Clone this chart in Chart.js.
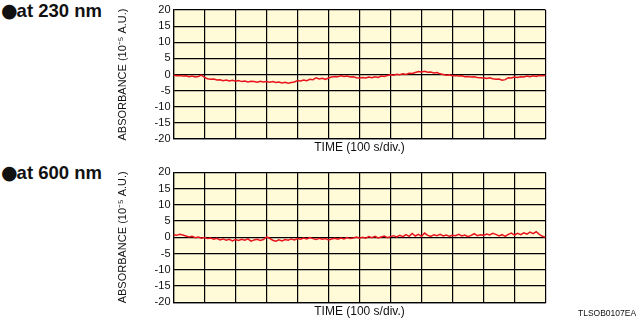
<!DOCTYPE html>
<html>
<head>
<meta charset="utf-8">
<script src="https://cdn.jsdelivr.net/npm/chart.js@4.4.0/dist/chart.umd.min.js"></script>
<style>
  body { margin: 0; background: #fff; }
  #wrap { position: relative; width: 641px; height: 320px; font-family: "Liberation Sans", Arial, sans-serif; }
  canvas { position: absolute; left: 0; }
  .label { position: absolute; left: 1px; font-weight: bold; font-size: 18.5px; color: #111; }
  .label b { font-family: "DejaVu Sans"; font-size: 19px; margin-right: -1px; }
  .code { position: absolute; left: 578px; top: 308px; font-size: 8.5px; color: #111; }
</style>
</head>
<body>
<div id="wrap">
  <div class="label" style="top:-1px"><b>●</b>at 230 nm</div>
  <canvas id="chart230" width="641" height="160" style="top:0"></canvas>
  <div class="label" style="top:161px"><b>●</b>at 600 nm</div>
  <canvas id="chart600" width="641" height="160" style="top:160px"></canvas>
  <div class="code">TLSOB0107EA</div>
</div>
<script>
// time in divisions (100 s/div), one sample every 0.1 div
const divisions = 12;
const sampleStep = 0.1;
const yTicks = [-20, -15, -10, -5, 0, 5, 10, 15, 20];

// absorbance readings (10^-5 A.U.)
const abs230 = [
  -0.2, -0.4, -0.3, -0.5, -0.4, -0.7, -0.5, -0.8, -0.6, -0.2, -0.9,
  -1.3, -1.5, -1.4, -1.7, -1.6, -1.9, -1.7, -2.0, -1.8, -2.1,
  -1.9, -2.2, -2.0, -2.3, -2.1, -2.2, -2.4, -2.1, -2.3, -2.2,
  -2.4, -2.2, -2.5, -2.3, -2.6, -2.4, -2.7, -2.5, -2.3, -1.9,
  -2.0, -1.7, -1.9, -1.5, -1.6, -1.0, -1.4, -1.2, -1.5, -1.1,
  -0.8, -0.6, -0.7, -0.4, -0.6, -0.5, -0.8, -0.7, -1.0, -1.1,
  -0.9, -1.1, -0.8, -1.0, -0.7, -0.9, -0.5, -0.6, -0.3, -0.1,
  -0.2, 0.1, -0.1, 0.2, 0.0, 0.4, 0.3, 0.6, 0.9, 0.8,
  1.0, 0.7, 0.8, 0.5, 0.6, 0.2, 0.0, -0.2, -0.1, -0.4,
  -0.3, -0.5, -0.4, -0.7, -0.6, -0.8, -0.7, -0.9, -1.0, -1.1,
  -1.2, -1.0, -1.3, -1.5, -1.4, -1.8, -1.6, -1.0, -1.1, -0.8,
  -0.9, -0.7, -0.8, -0.5, -0.7, -0.4, -0.6, -0.3, -0.4, -0.3
];

const abs600 = [
  0.8, 0.6, 0.9, 0.7, 0.4, 0.1, 0.3, -0.1, 0.1, -0.3, -0.1,
  -0.4, -0.2, -0.6, -0.3, -0.8, -0.5, -0.9, -0.6, -1.1, -0.7,
  -1.0, -0.6, -0.9, -0.5, -1.2, -0.8, -0.6, -1.0, -0.7, 0.1,
  -0.3, -0.9, -1.2, -0.8, -1.1, -0.7, -0.9, -0.5, -0.8, -0.4,
  -0.6, -0.2, -0.5, -0.1, -0.4, -0.7, -0.3, -0.6, -0.4, -0.8,
  -0.5, -0.3, -0.6, -0.2, -0.5, -0.1, -0.4, -0.2, 0.1, -0.3,
  0.0, -0.3, 0.2, -0.1, 0.3, -0.2, 0.1, 0.4, -0.1, 0.2,
  0.5, 0.1, 0.6, 0.2, 0.8, 0.3, 1.2, 0.4, 0.9, 0.3,
  1.3, 0.6, 0.3, 0.8, 0.5, 0.9, 0.4, 0.7, 0.3, 0.6,
  0.5, 0.9, 0.4, 0.7, 0.2, 0.6, 1.1, 0.5, 0.8, 0.6,
  1.0, 0.7, 1.2, 0.9, 0.4, 0.8, 0.3, 0.9, 1.3, 0.7,
  1.2, 0.8, 1.4, 1.0, 1.6, 1.1, 1.7, 0.9, 0.3, 0.0
];

const plotBackground = {
  id: 'plotBackground',
  beforeDraw(chart) {
    const {ctx, chartArea: a} = chart;
    ctx.save();
    ctx.fillStyle = '#fffad8';
    ctx.fillRect(a.left, a.top, a.right - a.left, a.bottom - a.top);
    ctx.restore();
  }
};

const makeChart = (id, values, pad) => {
  const points = values.map((v, i) => ({x: i * sampleStep, y: v}));
  return new Chart(document.getElementById(id).getContext('2d'), {
    type: 'line',
    data: {
      datasets: [{
        data: points,
        borderColor: '#e8131c',
        borderWidth: 1.5,
        pointRadius: 0,
        tension: 0
      }]
    },
    options: {
      responsive: false,
      animation: false,
      layout: {padding: {left: 116, right: 95.5, top: pad.top, bottom: 0}},
      plugins: {legend: {display: false}, tooltip: {enabled: false}},
      scales: {
        x: {
          type: 'linear',
          min: 0,
          max: divisions,
          ticks: {display: false, stepSize: 1},
          grid: {color: '#000', lineWidth: 1.2, drawTicks: false},
          border: {color: '#000', width: 1.2},
          title: {
            display: true,
            text: 'TIME (100 s/div.)',
            color: '#111',
            font: {family: 'Liberation Sans', size: 12},
            padding: {top: 0, bottom: pad.title}
          },
          afterFit: s => { s.height = pad.xHeight; }
        },
        y: {
          min: yTicks[0],
          max: yTicks[yTicks.length - 1],
          afterBuildTicks: s => { s.ticks = yTicks.map(v => ({value: v})); },
          ticks: {color: '#111', padding: 3, autoSkip: false, font: {family: 'Liberation Sans', size: 11}},
          grid: {color: '#000', lineWidth: 1.2, drawTicks: false},
          border: {color: '#000', width: 1.2},
          title: {
            display: true,
            text: 'ABSORBANCE (10⁻⁵ A.U.)',
            color: '#111',
            font: {family: 'Liberation Sans', size: 11},
            padding: 0
          },
          afterFit: s => { s.width = 57.5; }
        }
      }
    },
    plugins: [plotBackground]
  });
};

makeChart('chart230', abs230, {top: 10, xHeight: 21, title: 5});
makeChart('chart600', abs600, {top: 12.3, xHeight: 17.7, title: 1});
</script>
</body>
</html>
